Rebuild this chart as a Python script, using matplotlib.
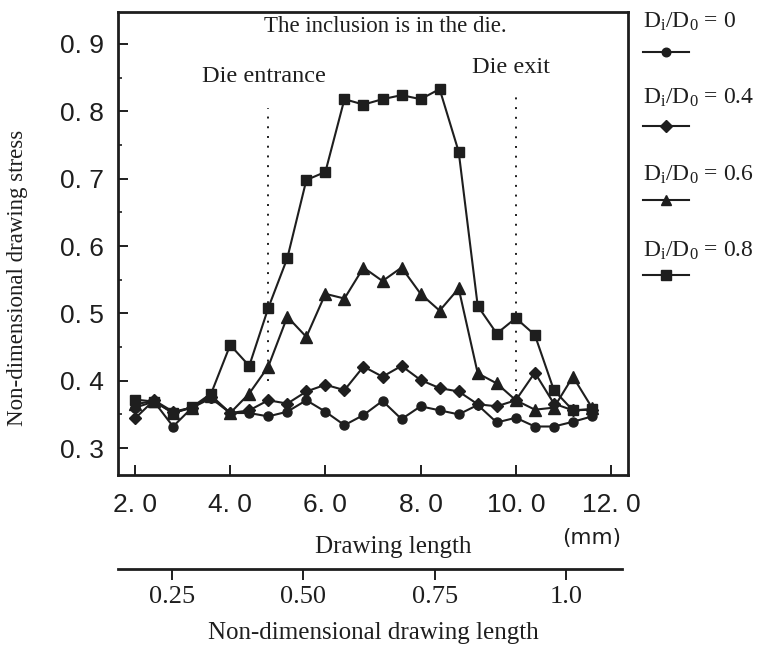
import matplotlib
matplotlib.use("Agg")
import matplotlib.pyplot as plt
from matplotlib.lines import Line2D

plt.rcParams['mathtext.fontset'] = 'custom'
plt.rcParams['mathtext.rm'] = 'Liberation Serif'
plt.rcParams['mathtext.it'] = 'Liberation Serif:italic'

# ---- data ----
drawing_length = [2.0, 2.4, 2.8, 3.2, 3.6, 4.0, 4.4, 4.8, 5.2, 5.6, 6.0, 6.4, 6.8,
                  7.2, 7.6, 8.0, 8.4, 8.8, 9.2, 9.6, 10.0, 10.4, 10.8, 11.2, 11.6]
stress_d00 = [0.360, 0.369, 0.332, 0.360, 0.374, 0.352, 0.352, 0.347, 0.354, 0.371,
              0.354, 0.334, 0.349, 0.370, 0.343, 0.362, 0.356, 0.350, 0.364, 0.338,
              0.345, 0.332, 0.332, 0.339, 0.347]
stress_d04 = [0.344, 0.371, 0.354, 0.360, 0.376, 0.352, 0.356, 0.371, 0.366, 0.384,
              0.394, 0.386, 0.421, 0.406, 0.422, 0.401, 0.389, 0.384, 0.365, 0.362,
              0.371, 0.412, 0.366, 0.356, 0.357]
stress_d06 = [0.365, 0.370, 0.352, 0.360, 0.378, 0.352, 0.381, 0.421, 0.495, 0.465,
              0.529, 0.522, 0.568, 0.548, 0.568, 0.529, 0.504, 0.537, 0.411, 0.396,
              0.371, 0.357, 0.360, 0.406, 0.360]
stress_d08 = [0.372, 0.369, 0.352, 0.361, 0.381, 0.453, 0.422, 0.508, 0.582, 0.698,
              0.710, 0.818, 0.810, 0.818, 0.824, 0.818, 0.833, 0.740, 0.511, 0.470,
              0.493, 0.468, 0.386, 0.356, 0.358]
series = [stress_d00, stress_d04, stress_d06, stress_d08]
series_labels = [r'D$_\mathrm{i}$/D$_0$ = 0', r'D$_\mathrm{i}$/D$_0$ = 0.4',
                 r'D$_\mathrm{i}$/D$_0$ = 0.6', r'D$_\mathrm{i}$/D$_0$ = 0.8']
markers = ['o', 'D', '^', 's']
marker_sizes = [6.5, 6.0, 8.0, 7.0]

y_ticks = [0.3, 0.4, 0.5, 0.6, 0.7, 0.8, 0.9]
y_tick_labels = ['0. 3', '0. 4', '0. 5', '0. 6', '0. 7', '0. 8', '0. 9']
x_ticks = [2.0, 4.0, 6.0, 8.0, 10.0, 12.0]
x_tick_labels = ['2. 0', '4. 0', '6. 0', '8. 0', '10. 0', '12. 0']
nd_ticks = [0.25, 0.50, 0.75, 1.0]
nd_tick_labels = ['0.25', '0.50', '0.75', '1.0']
die_entrance = 4.8
die_exit = 10.0

# ---- figure ----
W, H = 768, 650
fig = plt.figure(figsize=(W / 100, H / 100), dpi=100)
ink = '#1e1e1e'
serif = ['Liberation Serif', 'DejaVu Serif']
tickfont = ['Liberation Sans', 'DejaVu Sans']

def fx(px):
    return px / W

def fy(py):
    return 1 - py / H

ax = fig.add_axes([fx(118), fy(475), fx(628) - fx(118), fy(12.3) - fy(475)])
ax.set_xlim(1.643, 12.357)
ax.set_ylim(0.26, 0.947)

for vals, mk, ms in zip(series, markers, marker_sizes):
    ax.plot(drawing_length, vals, color=ink, lw=1.5, marker=mk, ms=ms,
            mfc=ink, mec=ink, zorder=3)

ax.plot([die_entrance, die_entrance], [0.40, 0.805], color=ink, lw=1.4,
        ls=(0, (1, 4)), zorder=2)
ax.plot([die_exit, die_exit], [0.385, 0.83], color=ink, lw=1.4,
        ls=(0, (1, 4)), zorder=2)

ax.text(7.25, 0.926, 'The inclusion is in the die.', ha='center', va='center',
        fontsize=16.5, family=serif, color=ink)
ax.text(4.71, 0.852, 'Die entrance', ha='center', va='center',
        fontsize=17.5, family=serif, color=ink)
ax.text(9.9, 0.865, 'Die exit', ha='center', va='center',
        fontsize=17.5, family=serif, color=ink)

ax.set_yticks(y_ticks)
ax.set_yticklabels(y_tick_labels)
ax.set_yticks([0.35, 0.45, 0.55, 0.65, 0.75, 0.85], minor=True)
ax.set_xticks(x_ticks)
ax.set_xticklabels(x_tick_labels)
ax.tick_params(axis='both', which='major', direction='in', length=7, width=1.4,
               colors=ink, labelsize=19, pad=13)
ax.tick_params(axis='y', which='major', pad=10)
ax.tick_params(axis='y', which='minor', direction='in', length=3, width=1.2,
               colors=ink)
for lab in ax.get_xticklabels() + ax.get_yticklabels():
    lab.set_family(tickfont)
for sp in ax.spines.values():
    sp.set_linewidth(2.0)
    sp.set_color(ink)

fig.text(fx(18), fy(278), 'Non-dimensional drawing stress', rotation=90,
         ha='center', va='center', fontsize=16.5, family=serif, color=ink)

fig.text(fx(393), fy(547), 'Drawing length', ha='center', va='center',
         fontsize=18, family=serif, color=ink)
fig.text(fx(592), fy(538), '(mm)', ha='center', va='center',
         fontsize=15.5, family=['DejaVu Sans'], color=ink)

# secondary non-dimensional axis
ax2 = fig.add_axes([fx(118), fy(569), fx(622) - fx(118), 0.0005])
ax2.set_xlim(0.148, 1.106)
ax2.set_ylim(0, 1)
for name, sp in ax2.spines.items():
    sp.set_visible(name == 'bottom')
ax2.spines['bottom'].set_linewidth(2.0)
ax2.spines['bottom'].set_color(ink)
ax2.set_yticks([])
ax2.set_xticks(nd_ticks)
ax2.set_xticklabels(nd_tick_labels, family=serif)
ax2.tick_params(axis='x', direction='out', length=8, width=1.4, colors=ink,
                labelsize=19, pad=4)
ax2.patch.set_visible(False)
fig.text(fx(373), fy(633), 'Non-dimensional drawing length', ha='center',
         va='center', fontsize=18, family=serif, color=ink)

# legend (drawn beside the plot)
text_y = [22, 98, 175, 251]
line_y = [52, 126, 200, 275]
for lab, mk, ms, ty, ly in zip(series_labels, markers, marker_sizes, text_y, line_y):
    fig.text(fx(643), fy(ty), lab, ha='left', va='center', fontsize=17,
             family=serif, color=ink)
    fig.add_artist(Line2D([fx(643), fx(689)], [fy(ly), fy(ly)],
                          transform=fig.transFigure, color=ink, lw=1.5))
    fig.add_artist(Line2D([fx(666)], [fy(ly)], transform=fig.transFigure,
                          color=ink, marker=mk, ms=ms * 0.95, mfc=ink, mec=ink))

fig.savefig('out.png', dpi=100)
